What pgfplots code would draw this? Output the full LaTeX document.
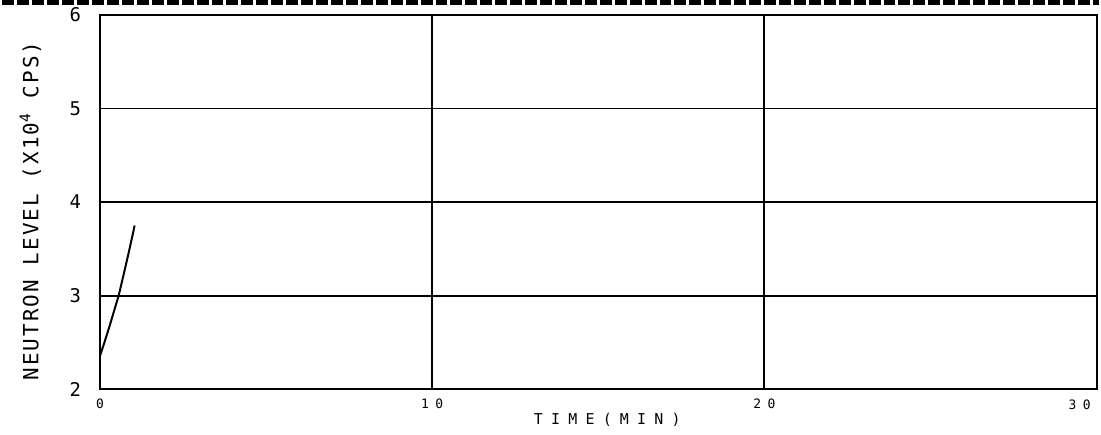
\documentclass[border=0pt]{standalone}
\usepackage{fontspec}
\setmainfont{DejaVu Sans Mono}
\usepackage{pgfplots}
\pgfplotsset{compat=1.18}
\begin{document}
\begin{tikzpicture}
\begin{axis}[
  scale only axis, width=500.5pt, height=188pt,
  xmin=0, xmax=30, ymin=2, ymax=6,
  xtick={0,10,20,30}, ytick={2,3,4,5,6},
  xticklabels={0,10,20,{}},
  grid=major, major grid style={black, line width=1pt},
  axis line style={line width=1pt},
  tick style={draw=none},
  /pgf/number format/assume math mode=true,
  xticklabel style={font=\fontsize{6.5}{7}\selectfont\addfontfeature{LetterSpace=50}, yshift=-1.5pt},
  yticklabel style={font=\fontsize{9.5}{10}\selectfont, xshift=-6pt},
  xlabel={TIME(MIN)},
  ylabel={NEUTRON LEVEL (X10\textsuperscript{4} CPS)},
  xlabel style={font=\fontsize{7.5}{8}\selectfont\addfontfeature{LetterSpace=55},
    at={(axis description cs:0.509,0)}, anchor=center, yshift=-15.5pt},
  ylabel style={font=\fontsize{10.5}{12}\selectfont\addfontfeature{LetterSpace=10},
    at={(axis description cs:0,0.476)}, anchor=center, yshift=35pt},
]
\addplot[black, line width=1pt] coordinates {
  (0,2.36) (0.15,2.52) (0.30,2.69) (0.45,2.87) (0.56,3.00)
  (0.70,3.21) (0.85,3.44) (1.00,3.68) (1.04,3.75)
};
\coordinate (sw) at (rel axis cs:0,0);
\coordinate (ne) at (rel axis cs:1,1);
\coordinate (x30) at (axis cs:30,2);
\end{axis}
\node[anchor=north, inner sep=0pt, font=\fontsize{6.5}{7}\selectfont\addfontfeature{LetterSpace=50}]
  at ([shift={(-8.5pt,-5pt)}]x30) {30};
\pgfresetboundingbox
\path ([shift={(-49pt,-22.5pt)}]sw) rectangle ([shift={(1pt,7.5pt)}]ne);
\draw[line width=2.5pt, dash pattern=on 6pt off 1.5pt]
  ([shift={(-49pt,6.25pt)}]sw |- ne) -- ([shift={(1pt,6.25pt)}]ne);
\end{tikzpicture}
\end{document}
